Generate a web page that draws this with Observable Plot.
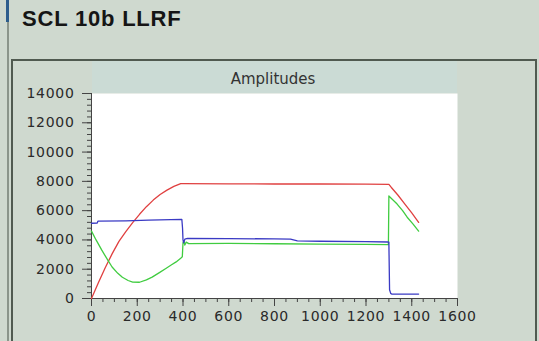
<!DOCTYPE html>
<html>
<head>
<meta charset="utf-8">
<script src="https://cdn.jsdelivr.net/npm/d3@7"></script>
<script src="https://cdn.jsdelivr.net/npm/@observablehq/plot@0.6"></script>
<style>
  html, body { margin: 0; padding: 0; }
  body { width: 539px; height: 341px; overflow: hidden; position: relative; background: #cfd9cf; font-family: "DejaVu Sans", sans-serif; }
  #stripe { position: absolute; left: 6px; top: 0; width: 3px; height: 22px; background: #2d5d8c; }
  #leftline { position: absolute; left: 7px; top: 22px; width: 2px; height: 330px; background: #8b958b; }
  #frame { position: absolute; left: 11px; top: 59px; width: 522px; height: 300px; border-top: 2px solid #505a50; border-left: 2px solid #505a50; border-right: 2px solid #505a50; }
  #band { position: absolute; left: 92px; top: 61px; width: 365px; height: 32px; background: #cbdbd5; }
  #title { position: absolute; left: 22px; top: 6px; font-family: "Liberation Sans", Arial, sans-serif; font-weight: bold; font-size: 22px; letter-spacing: 0.8px; color: #151515; }
  #sub { position: absolute; left: 173px; width: 200px; top: 70px; text-align: center; font-family: "DejaVu Sans", sans-serif; font-size: 15px; color: #333; }
  #chart { position: absolute; left: 0; top: 0; }
</style>
</head>
<body>
<div id="stripe"></div>
<div id="leftline"></div>
<div id="frame"></div>
<div id="band"></div>
<div id="title">SCL 10b LLRF</div>
<div id="sub">Amplitudes</div>
<div id="chart"></div>
<script>
// Tick labels
const xTicks = [0, 200, 400, 600, 800, 1000, 1200, 1400, 1600];
const yTicks = [0, 2000, 4000, 6000, 8000, 10000, 12000, 14000];

// Series A (red)
const redT = [0, 30, 60, 90, 120, 150, 180, 210, 240, 270, 300, 330, 360, 390, 400, 600, 800, 1000, 1200, 1300, 1310, 1340, 1370, 1400, 1430];
const redV = [0, 1080, 2100, 3050, 3900, 4560, 5180, 5750, 6270, 6720, 7100, 7400, 7660, 7840, 7840, 7830, 7820, 7820, 7810, 7800, 7600, 7050, 6450, 5850, 5200];

// Series B (green)
const greenT = [0, 20, 45, 70, 90, 115, 135, 160, 180, 210, 240, 265, 295, 325, 350, 370, 390, 397, 400, 404, 408, 414, 425, 600, 800, 1000, 1200, 1298, 1300, 1310, 1336, 1360, 1380, 1405, 1430];
const greenV = [4600, 4000, 3300, 2650, 2150, 1720, 1450, 1230, 1120, 1110, 1270, 1460, 1750, 2050, 2300, 2500, 2750, 2850, 3800, 3950, 3650, 3850, 3750, 3760, 3740, 3720, 3700, 3680, 7000, 6850, 6450, 6000, 5550, 5100, 4600];

// Series C (blue)
const blueT = [0, 25, 28, 150, 250, 395, 398, 400, 403, 408, 420, 600, 800, 870, 900, 1000, 1200, 1295, 1300, 1303, 1308, 1312, 1430];
const blueV = [5140, 5150, 5280, 5300, 5350, 5400, 4800, 4000, 3800, 4050, 4100, 4090, 4070, 4050, 3930, 3910, 3880, 3860, 3850, 600, 350, 300, 300];

const series = [
  {name: "A", t: redT, v: redV, color: "#e04040"},
  {name: "B", t: greenT, v: greenV, color: "#40cc40"},
  {name: "C", t: blueT, v: blueV, color: "#3a3ac4"}
];
const rows = series.flatMap(s => s.t.map((t, i) => ({t, v: s.v[i], s: s.name})));

const chart = Plot.plot({
  width: 539,
  height: 341,
  marginLeft: 91,
  marginRight: 82,
  marginTop: 93,
  marginBottom: 43,
  style: {background: "transparent", fontFamily: "DejaVu Sans, sans-serif", fontSize: "14px", letterSpacing: "0.7px", color: "#2a2a2a"},
  x: {domain: [0, 1600]},
  y: {domain: [0, 14000]},
  color: {domain: series.map(s => s.name), range: series.map(s => s.color)},
  marks: [
    Plot.frame({fill: "white", stroke: null}),
    Plot.axisY({ticks: d3.range(0, 14001, 400), tickSize: 4, tickFormat: () => "", label: null, stroke: "#444"}),
    Plot.axisY({ticks: yTicks, tickSize: 9, tickPadding: 8, tickFormat: d3.format("d"), label: null, stroke: "#444"}),
    Plot.axisX({ticks: d3.range(0, 1601, 50), tickSize: 4, tickFormat: () => "", label: null, stroke: "#444"}),
    Plot.axisX({ticks: xTicks, tickSize: 8, tickPadding: 5, tickFormat: d3.format("d"), label: null, stroke: "#444"}),
    Plot.ruleX([0], {stroke: "#444"}),
    Plot.ruleY([0], {stroke: "#444"}),
    Plot.lineY(rows, {x: "t", y: "v", z: "s", stroke: "s", strokeWidth: 1.3})
  ]
});
document.getElementById("chart").appendChild(chart);
</script>
</body>
</html>
